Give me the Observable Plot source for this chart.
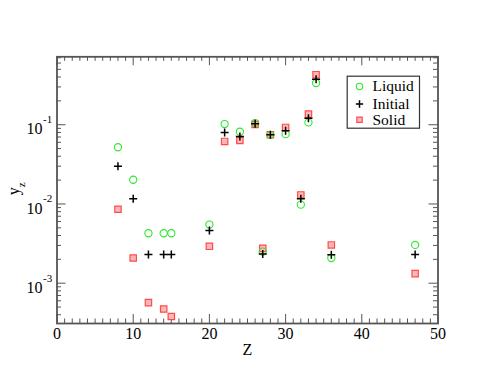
<!DOCTYPE html>
<html>
<head>
<meta charset="utf-8">
<script src="https://cdn.jsdelivr.net/npm/d3@7"></script>
<script src="https://cdn.jsdelivr.net/npm/@observablehq/plot@0.6"></script>
<style>
  html, body { margin: 0; padding: 0; background: white; }
</style>
</head>
<body>
<div id="chart"></div>
<script>
// ---- data ----
const Z       = [8, 10, 12, 14, 15, 20, 22, 24, 26, 27, 28, 30, 32, 33, 34, 36, 47];
const liquid  = [0.052, 0.0202, 0.00427, 0.00427, 0.00427, 0.0055, 0.102, 0.0815, 0.105, 0.0025, 0.0746, 0.076, 0.0098, 0.107, 0.336, 0.00208, 0.00304];
const initial = [0.030, 0.0116, 0.00231, 0.00231, 0.00231, 0.00461, 0.080, 0.0711, 0.103, 0.00233, 0.0746, 0.084, 0.0116, 0.121, 0.374, 0.00228, 0.00231];
const solid   = [0.00857, 0.00208, 0.000568, 0.000472, 0.00038, 0.00292, 0.0615, 0.0633, 0.101, 0.00275, 0.0746, 0.0924, 0.0130, 0.136, 0.428, 0.00304, 0.00132];
const seriesNames = ["Liquid", "Initial", "Solid"];
const xMajor = [0, 10, 20, 30, 40, 50];
const xMinor = d3.range(1, 50).filter(v => v % 10 !== 0);
const yMajor = [1e-3, 1e-2, 1e-1];
const yDomain = [3.1e-4, 0.72];
const yMinor = [];
for (let e = -4; e <= -1; e++) for (let k = 2; k <= 9; k++) {
  const v = k * Math.pow(10, e);
  if (v > yDomain[0] && v < yDomain[1]) yMinor.push(v);
}
const xLabel = "Z";
const yLabelMain = "y";
const yLabelSub = "z";

// ---- layout ----
const W = 493, H = 381;
const mL = 56.5, mR = 55.5, mT = 56.3, mB = 58;
const pw = W - mL - mR, ph = H - mT - mB;
const majorLen = 9, minorLen = 4.5;
const frameColor = "#555";
const font = "Liberation Serif";

const rows = (ys) => Z.map((z, i) => ({z, v: ys[i]}));

const tickStyle = {stroke: frameColor, strokeWidth: 1};
const legendText = {x: null, y: null, text: d => d, frameAnchor: "top-right", dx: -65.5, textAnchor: "start", lineAnchor: "middle", fontSize: 15.5};

const chart = Plot.plot({
  width: W, height: H,
  marginLeft: mL, marginRight: mR, marginTop: mT, marginBottom: mB,
  style: {background: "white", fontFamily: font, fontSize: "16px", color: "black"},
  x: {domain: [0, 50], axis: null},
  y: {type: "log", domain: yDomain, axis: null},
  marks: [
    // ticks (inward) on all four sides
    Plot.tickX(xMajor, {x: d => d, insetTop: ph - majorLen, ...tickStyle}),
    Plot.tickX(xMajor, {x: d => d, insetBottom: ph - majorLen, ...tickStyle}),
    Plot.tickX(xMinor, {x: d => d, insetTop: ph - minorLen, ...tickStyle}),
    Plot.tickX(xMinor, {x: d => d, insetBottom: ph - minorLen, ...tickStyle}),
    Plot.tickY(yMajor, {y: d => d, insetRight: pw - majorLen, ...tickStyle}),
    Plot.tickY(yMajor, {y: d => d, insetLeft: pw - majorLen, ...tickStyle}),
    Plot.tickY(yMinor, {y: d => d, insetRight: pw - minorLen, ...tickStyle}),
    Plot.tickY(yMinor, {y: d => d, insetLeft: pw - minorLen, ...tickStyle}),
    Plot.frame({stroke: frameColor, strokeWidth: 1.8}),
    // x tick labels
    Plot.axisX({ticks: xMajor, tickSize: 0, tickPadding: 4, fontSize: 16, tickFormat: d => String(d), label: null}),
    // y tick labels 10^n
    Plot.text(yMajor, {y: d => d, text: () => "10", frameAnchor: "left", textAnchor: "end", dx: -14.5, dy: 4.5, fontSize: 16}),
    Plot.text(yMajor, {y: d => d, text: d => String(Math.round(Math.log10(d))), frameAnchor: "left", textAnchor: "start", dx: -14, dy: -5, fontSize: 11}),
    // axis labels
    Plot.text([xLabel], {x: null, y: null, text: d => d, frameAnchor: "bottom", lineAnchor: "middle", dy: 26, fontSize: 16}),
    Plot.text([yLabelMain], {x: null, y: null, text: d => d, frameAnchor: "left", rotate: -90, dx: -43.5, dy: 5, fontSize: 16}),
    Plot.text([yLabelSub], {x: null, y: null, text: d => d, frameAnchor: "left", rotate: -90, dx: -35.5, dy: -3, fontSize: 11}),
    // data
    Plot.dot(rows(solid), {x: "z", y: "v", symbol: "square", r: 3.6, fill: "#ffb8b8", stroke: "#ff4a4a", strokeWidth: 1.2}),
    Plot.dot(rows(liquid), {x: "z", y: "v", symbol: "circle", r: 3.6, fill: "none", stroke: "#2ee82e", strokeWidth: 1.1}),
    Plot.dot(rows(initial), {x: "z", y: "v", symbol: "plus", r: 2.7, fill: "none", stroke: "black", strokeWidth: 1.5}),
    // legend
    Plot.frame({insetLeft: 290.2, insetRight: 18.5, insetTop: 19.4, insetBottom: 195.3, stroke: "#333", strokeWidth: 1.2, fill: "white"}),
    Plot.dot([seriesNames[0]], {x: null, y: null, frameAnchor: "top-right", dx: -78.5, dy: 29.7, symbol: "circle", r: 3.2, fill: "none", stroke: "#2ee82e", strokeWidth: 1.1}),
    Plot.dot([seriesNames[1]], {x: null, y: null, frameAnchor: "top-right", dx: -78.5, dy: 47.2, symbol: "plus", r: 2.5, fill: "none", stroke: "black", strokeWidth: 1.5}),
    Plot.dot([seriesNames[2]], {x: null, y: null, frameAnchor: "top-right", dx: -78.5, dy: 63, symbol: "square", r: 3, fill: "#ffb8b8", stroke: "#ff4a4a", strokeWidth: 1.2}),
    Plot.text([seriesNames[0]], {...legendText, dy: 29.5}),
    Plot.text([seriesNames[1]], {...legendText, dy: 47.2}),
    Plot.text([seriesNames[2]], {...legendText, dy: 63})
  ]
});
document.getElementById("chart").appendChild(chart);
</script>
</body>
</html>
